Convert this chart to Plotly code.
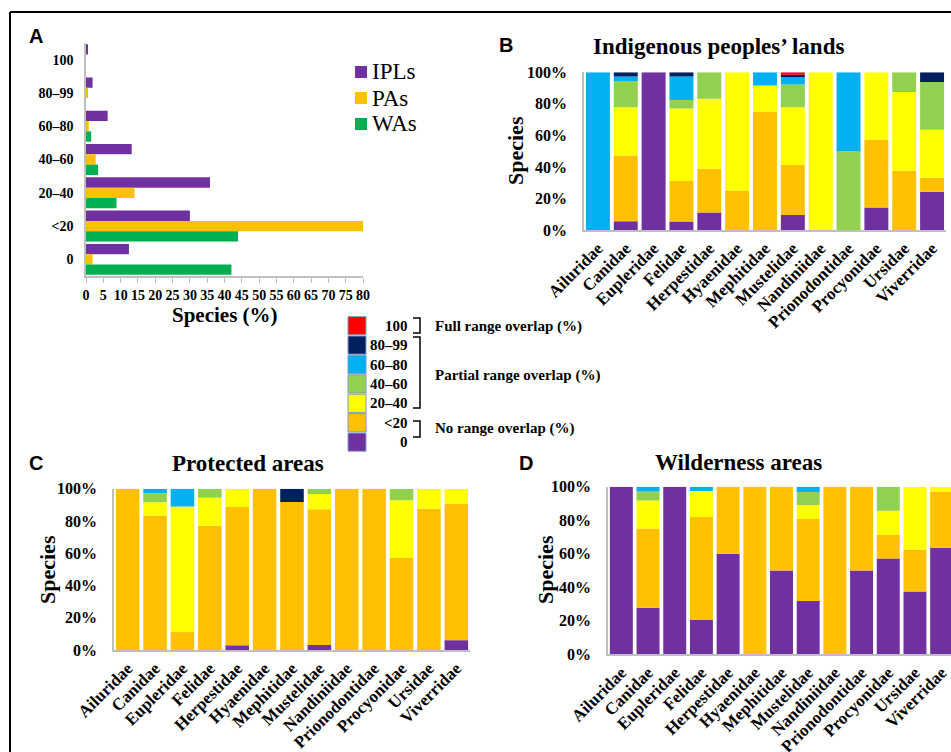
import numpy as np
import plotly.graph_objects as go

W, H = 951, 752

# ---------------- data ----------------
families = ["Ailuridae", "Canidae", "Eupleridae", "Felidae", "Herpestidae", "Hyaenidae",
            "Mephitidae", "Mustelidae", "Nandiniidae", "Prionodontidae", "Procyonidae",
            "Ursidae", "Viverridae"]

# Panel A (top to bottom)
overlap_bins = ["100", "80–99", "60–80", "40–60", "20–40", "<20", "0"]
ipl_pct = [0.5, 1.9, 6.25, 13.2, 35.8, 30.0, 12.4]
pa_pct = [0.0, 0.4, 0.8, 2.8, 14.0, 80.0, 1.9]
wa_pct = [0.0, 0.0, 1.5, 3.5, 8.8, 43.9, 42.0]
series_names = ["IPLs", "PAs", "WAs"]

# Panel B: Indigenous peoples' lands (% of species per family)
ipl_0     = [0, 5.6, 100, 5.4, 11.1, 0, 0, 9.5, 0, 0, 14.3, 0, 24.2]
ipl_lt20  = [0, 41.6, 0, 25.7, 27.8, 25, 75, 31.7, 0, 0, 42.9, 37.5, 9.1]
ipl_20_40 = [0, 30.6, 0, 46.0, 44.4, 75, 16.7, 36.6, 100, 0, 42.8, 50, 30.3]
ipl_40_60 = [0, 16.7, 0, 5.4, 16.7, 0, 0, 14.4, 0, 50, 0, 12.5, 30.3]
ipl_60_80 = [100, 2.8, 0, 14.8, 0, 0, 8.3, 4.6, 0, 50, 0, 0, 0]
ipl_80_99 = [0, 2.7, 0, 2.7, 0, 0, 0, 1.7, 0, 0, 0, 0, 6.1]
ipl_100   = [0, 0, 0, 0, 0, 0, 0, 1.5, 0, 0, 0, 0, 0]

# Panel C: Protected areas
pa_0     = [0, 0, 0, 0, 2.9, 0, 0, 3.1, 0, 0, 0, 0, 6.1]
pa_lt20  = [100, 83.3, 11.1, 77.0, 85.7, 100, 91.7, 84.1, 100, 100, 57.1, 87.5, 84.8]
pa_20_40 = [0, 8.3, 77.8, 17.4, 11.4, 0, 0, 9.5, 0, 0, 35.7, 12.5, 9.1]
pa_40_60 = [0, 5.6, 0, 5.6, 0, 0, 0, 3.3, 0, 0, 7.2, 0, 0]
pa_60_80 = [0, 2.8, 11.1, 0, 0, 0, 0, 0, 0, 0, 0, 0, 0]
pa_80_99 = [0, 0, 0, 0, 0, 0, 8.3, 0, 0, 0, 0, 0, 0]
pa_100   = [0, 0, 0, 0, 0, 0, 0, 0, 0, 0, 0, 0, 0]

# Panel D: Wilderness areas
wa_0     = [100, 27.8, 100, 20.5, 60, 0, 50, 31.8, 0, 50, 57.1, 37.5, 63.6]
wa_lt20  = [0, 47.2, 0, 61.4, 40, 100, 50, 48.9, 100, 50, 14.3, 25, 33.4]
wa_20_40 = [0, 16.7, 0, 15.5, 0, 0, 0, 8.4, 0, 0, 14.3, 37.5, 3.0]
wa_40_60 = [0, 5.5, 0, 0, 0, 0, 0, 7.7, 0, 0, 14.3, 0, 0]
wa_60_80 = [0, 2.8, 0, 2.6, 0, 0, 0, 3.2, 0, 0, 0, 0, 0]
wa_80_99 = [0, 0, 0, 0, 0, 0, 0, 0, 0, 0, 0, 0, 0]
wa_100   = [0, 0, 0, 0, 0, 0, 0, 0, 0, 0, 0, 0, 0]

key_labels = ["100", "80–99", "60–80", "40–60", "20–40", "<20", "0"]
pct_ticks = [0, 20, 40, 60, 80, 100]
pct_ticktext = ["0%", "20%", "40%", "60%", "80%", "100%"]

# ---------------- style ----------------
PURPLE = "#7030A0"
ORANGE = "#FFC000"
YELLOW = "#FFFF00"
LGREEN = "#92D050"
LBLUE = "#00B0F0"
NAVY = "#002060"
RED = "#FF0000"
GREEN = "#00B050"
AXIS = "#BFBFBF"
SERIF = "Liberation Serif, Times New Roman, serif"
SANS = "Liberation Sans, Arial, sans-serif"
stack_colors = [PURPLE, ORANGE, YELLOW, LGREEN, LBLUE, NAVY, RED]
series_colors = [PURPLE, ORANGE, GREEN]


def X(px):
    return px / W


def Y(py):
    return 1 - py / H


fig = go.Figure()

# Panel A
for name, vals, col in zip(series_names, [ipl_pct, pa_pct, wa_pct], series_colors):
    fig.add_trace(go.Bar(x=vals, y=overlap_bins, orientation="h", name=name,
                         marker=dict(color=col, line=dict(width=0)),
                         xaxis="x", yaxis="y", showlegend=False))


def add_stack(xa, ya, series):
    base = np.zeros(len(families))
    for vals, col in zip(series, stack_colors):
        v = np.array(vals, dtype=float)
        fig.add_trace(go.Bar(x=families, y=v, base=base.copy(), width=0.86,
                             offsetgroup=xa, marker=dict(color=col, line=dict(width=0)),
                             xaxis=xa, yaxis=ya, showlegend=False))
        base = base + v


add_stack("x2", "y2", [ipl_0, ipl_lt20, ipl_20_40, ipl_40_60, ipl_60_80, ipl_80_99, ipl_100])
add_stack("x3", "y3", [pa_0, pa_lt20, pa_20_40, pa_40_60, pa_60_80, pa_80_99, pa_100])
add_stack("x4", "y4", [wa_0, wa_lt20, wa_20_40, wa_40_60, wa_60_80, wa_80_99, wa_100])

tick_bold16 = dict(family=SERIF, size=16, color="black", weight="bold")
tick_bold17 = dict(family=SERIF, size=17, color="black", weight="bold")
tick_bold14 = dict(family=SERIF, size=14, color="black", weight="bold")


def cat_xaxis(domain, anchor, rng=None):
    d = dict(domain=domain, anchor=anchor, type="category", categoryorder="array",
             categoryarray=families, tickangle=-45, tickfont=tick_bold17,
             showline=True, linecolor=AXIS, linewidth=1.5, ticks="", showgrid=False,
             zeroline=False, fixedrange=True, automargin=False)
    if rng is not None:
        d["range"] = rng
    return d


def pct_yaxis(domain, anchor):
    return dict(domain=domain, anchor=anchor, range=[0, 100], tickvals=pct_ticks,
                ticktext=pct_ticktext, tickfont=tick_bold16, showline=True,
                linecolor=AXIS, linewidth=1.5, showgrid=False, zeroline=False,
                ticks="", ticklabelstandoff=12, automargin=False)


fig.update_layout(
    width=W, height=H, autosize=False,
    margin=dict(l=0, r=0, t=0, b=0, autoexpand=False),
    paper_bgcolor="white", plot_bgcolor="white",
    barmode="group", bargap=0.07, bargroupgap=0,
    xaxis=dict(domain=[X(86), X(363)], anchor="y", range=[0, 80], dtick=5, tick0=0,
               tickangle=0, tickfont=tick_bold14, showline=True, linecolor=AXIS,
               linewidth=1.5, ticks="outside", ticklen=5, tickcolor=AXIS,
               showgrid=False, zeroline=False, automargin=False),
    yaxis=dict(domain=[Y(276), Y(43)], anchor="x", type="category",
               categoryorder="array", categoryarray=overlap_bins, autorange="reversed",
               tickfont=tick_bold14, showline=True, linecolor=AXIS, linewidth=1.5,
               ticks="", showgrid=False, ticklabelstandoff=8, automargin=False),
    xaxis2=cat_xaxis([X(584), X(946)], "y2"),
    yaxis2=pct_yaxis([Y(230), Y(72.3)], "x2"),
    xaxis3=cat_xaxis([X(114), X(470)], "y3"),
    yaxis3=pct_yaxis([Y(650), Y(488.7)], "x3"),
    xaxis4=cat_xaxis([X(608), 1.0], "y4", rng=[-0.5, 12.35]),
    yaxis4=pct_yaxis([Y(654.3), Y(486.7)], "x4"),
    showlegend=False,
)

annotations = []


def ann(x, y, text, size, family=SERIF, bold=True, xanchor="center", angle=0, yanchor="middle"):
    annotations.append(dict(x=X(x), y=Y(y), xref="paper", yref="paper", text=text,
                            showarrow=False, xanchor=xanchor, yanchor=yanchor,
                            textangle=angle,
                            font=dict(family=family, size=size, color="black",
                                      weight="bold" if bold else "normal")))


# panel letters
ann(36, 36, "A", 20, family=SANS)
ann(506, 45, "B", 20, family=SANS)
ann(36, 463, "C", 20, family=SANS)
ann(526, 463, "D", 20, family=SANS)

# titles
ann(718, 46, "Indigenous peoples’ lands", 23)
ann(248, 463, "Protected areas", 23)
ann(738, 462, "Wilderness areas", 23)
ann(225, 315, "Species (%)", 21)

# y-axis titles
ann(515, 151, "Species", 22, angle=-90)
ann(47, 570, "Species", 22, angle=-90)
ann(545, 570, "Species", 22, angle=-90)

shapes = []
# frame
shapes.append(dict(type="line", xref="paper", yref="paper", x0=X(10), y0=Y(12), x1=1.0, y1=Y(12),
                   line=dict(color="black", width=2)))
shapes.append(dict(type="line", xref="paper", yref="paper", x0=X(10), y0=Y(12), x1=X(10), y1=0,
                   line=dict(color="black", width=2)))

# panel A legend
for i, (name, col) in enumerate(zip(series_names, series_colors)):
    cy = 72 + i * 26
    shapes.append(dict(type="rect", xref="paper", yref="paper", x0=X(355), x1=X(367),
                       y0=Y(cy - 6), y1=Y(cy + 6), fillcolor=col, line=dict(width=0)))
    ann(370, cy, name, 23, bold=False, xanchor="left")

# colour key
key_top = 316.0
key_step = 19.4
key_colors = [RED, NAVY, LBLUE, LGREEN, YELLOW, ORANGE, PURPLE]
for i, (lab, col) in enumerate(zip(key_labels, key_colors)):
    t = key_top + i * key_step
    shapes.append(dict(type="rect", xref="paper", yref="paper", x0=X(348), x1=X(366),
                       y0=Y(t + 0.6), y1=Y(t + key_step - 0.6), fillcolor=col,
                       line=dict(color="#7F9CC0", width=1)))
    ann(410, t + key_step / 2, lab, 15, xanchor="right")


def bracket(x0, x1, ytop, ybot):
    path = (f"M {X(x0)} {Y(ytop)} L {X(x1)} {Y(ytop)} L {X(x1)} {Y(ybot)} L {X(x0)} {Y(ybot)}")
    shapes.append(dict(type="path", xref="paper", yref="paper", path=path,
                       line=dict(color="black", width=1.5)))


bracket(413, 420, 318, 333)
bracket(413, 420, 337, 408)
bracket(413, 420, 421, 437)
ann(433, 326, "Full range overlap (%)", 15, xanchor="left")
ann(433, 375, "Partial range overlap (%)", 15, xanchor="left")
ann(433, 428, "No range overlap (%)", 15, xanchor="left")

fig.update_layout(annotations=annotations, shapes=shapes)

fig.write_html("out.html", config={"displayModeBar": False},
               post_script="document.body.style.margin='0px';document.body.style.overflow='hidden';")
